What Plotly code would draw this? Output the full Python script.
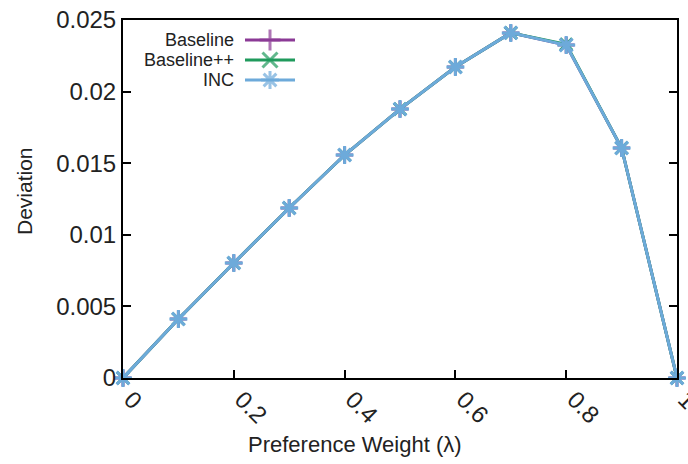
import plotly.graph_objects as go

lam = [0.0, 0.1, 0.2, 0.3, 0.4, 0.5, 0.6, 0.7, 0.8, 0.9, 1.0]
baseline = [0.0, 0.00412, 0.00803, 0.01187, 0.01557, 0.01878, 0.02172, 0.02410, 0.02325, 0.01606, 0.0]
baseline_pp = [0.0, 0.00412, 0.00803, 0.01187, 0.01557, 0.01878, 0.02172, 0.02410, 0.02330, 0.01606, 0.0]
inc = [0.0, 0.00412, 0.00803, 0.01187, 0.01557, 0.01878, 0.02172, 0.02410, 0.02325, 0.01606, 0.0]

names = ["Baseline", "Baseline++", "INC"]
colors = ["#8B3A96", "#1F9A5C", "#6DAADA"]
symbols = ["cross-thin-open", "x-thin-open", "asterisk-open"]
plot_sizes = [12, 12, 15]
series = [baseline, baseline_pp, inc]

FONT = "Liberation Sans, Arial, sans-serif"
W, H = 688, 464
L, R, T, B = 123, 11, 20, 86
PW, PH = W - L - R, H - T - B


def px(x):
    return (x - L) / PW


def py(y):
    return (H - B - y) / PH


fig = go.Figure()
for n, c, s, ms, ys in zip(names, colors, symbols, plot_sizes, series):
    fig.add_trace(go.Scatter(
        x=lam, y=ys, name=n, mode="lines+markers",
        line=dict(color=c, width=3),
        marker=dict(symbol=s, size=ms, color=c, line=dict(color=c, width=3)),
        cliponaxis=False, showlegend=False,
    ))

# manual legend (text right-aligned, sample to the right), drawn in pixel coords
leg_y = [40, 60, 80]
for n, c, s, yy in zip(names, colors, symbols, leg_y):
    fig.add_trace(go.Scatter(
        x=[245, 270, 295], y=[yy, yy, yy], mode="lines+markers",
        line=dict(color=c, width=3),
        marker=dict(symbol=s, size=[0, 15, 0], color=c, line=dict(color=c, width=3)),
        xaxis="x2", yaxis="y2", showlegend=False, hoverinfo="skip", cliponaxis=False,
    ))
    fig.add_annotation(x=236, y=yy, xref="x2", yref="y2", text=n, showarrow=False,
                       xanchor="right", yanchor="middle",
                       font=dict(family=FONT, size=18, color="#222"))

# axis titles placed as annotations
fig.add_annotation(x=px(355), y=py(445), xref="paper", yref="paper",
                   text="Preference Weight (λ)",
                   showarrow=False, xanchor="center", yanchor="middle",
                   font=dict(family=FONT, size=22, color="#222"))
fig.add_annotation(x=px(24), y=py(191), xref="paper", yref="paper",
                   text="Deviation", textangle=-90,
                   showarrow=False, xanchor="center", yanchor="middle",
                   font=dict(family=FONT, size=21, color="#222"))

fig.update_layout(
    width=W, height=H,
    margin=dict(l=L, r=R, t=T, b=B),
    paper_bgcolor="white", plot_bgcolor="white",
    font=dict(family=FONT, color="#222"),
    showlegend=False,
    xaxis=dict(
        range=[0, 1], dtick=0.2, tick0=0, tickangle=45, automargin=False,
        ticklabeloverflow="allow", ticklabelshift=8, ticklabelstandoff=-4,
        showline=True, linecolor="black", linewidth=2, mirror=True,
        ticks="inside", ticklen=8, tickwidth=2, tickcolor="black",
        showgrid=False, zeroline=False,
        tickfont=dict(family=FONT, size=24, color="#222"),
    ),
    yaxis=dict(
        range=[0, 0.025], dtick=0.005, tick0=0, automargin=False,
        showline=True, linecolor="black", linewidth=2, mirror="ticks",
        ticks="inside", ticklen=8, tickwidth=2, tickcolor="black",
        showgrid=False, zeroline=False,
        tickfont=dict(family=FONT, size=24, color="#222"),
    ),
    xaxis2=dict(range=[L, W - R], overlaying="x", anchor="free",
                visible=False, fixedrange=True),
    yaxis2=dict(range=[H - B, T], overlaying="y", anchor="free",
                visible=False, fixedrange=True),
)

fig.write_html("out.html")
